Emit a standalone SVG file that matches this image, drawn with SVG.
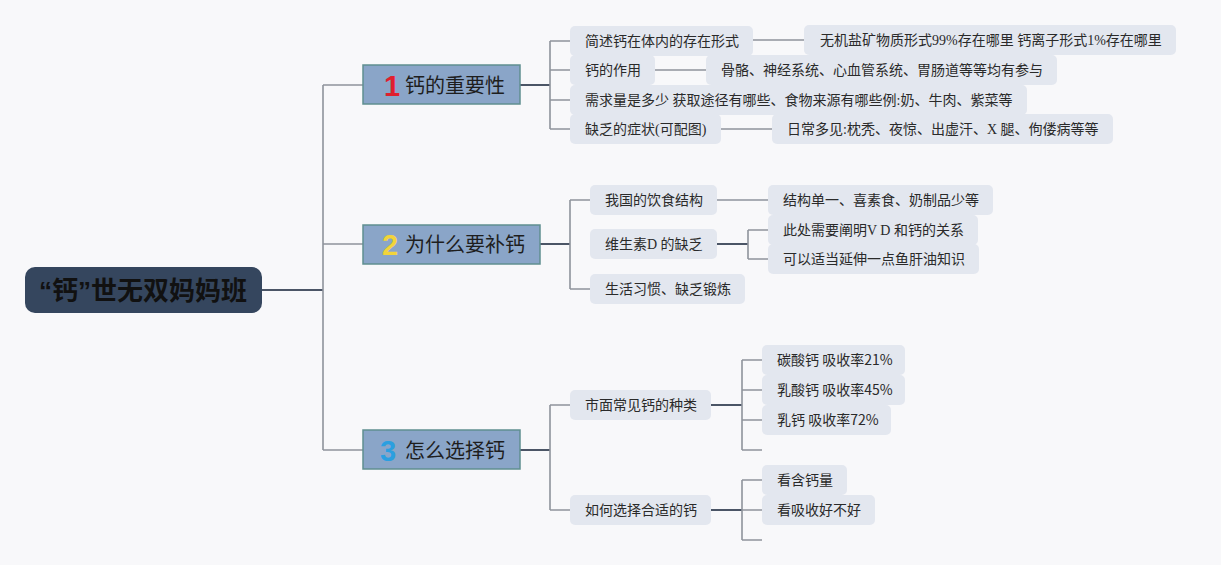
<svg xmlns="http://www.w3.org/2000/svg" width="1221" height="565" viewBox="0 0 1221 565">
<style>
.bg{fill:#f8f8fa}
.root rect{fill:#35465e}
.root text{font-family:"Noto Sans CJK SC",sans-serif;font-size:26px;font-weight:bold;fill:#111;text-anchor:middle}
.main rect{fill:#8aa5c8;stroke:#5f8f90;stroke-width:1.5}
.main text{font-family:"Noto Sans CJK SC",sans-serif;font-size:20px;fill:#1e1e1e}
.main text.num{font-family:"Liberation Sans","Noto Sans",sans-serif;font-size:29px;font-weight:bold}
.main text.r{fill:#e0202e}
.main text.y{fill:#f2d43a}
.main text.b{fill:#2b9fe0}
.sub rect{fill:#e3e7ef}
.sub text{font-family:"Liberation Serif","Noto Sans CJK SC",serif;font-size:14px;fill:#2a2a2a}
.sub text.sans{font-family:"Noto Sans CJK SC",sans-serif}
.dk{stroke:#4b5566;stroke-width:2;fill:none}
.lt{stroke:#8e939c;stroke-width:1.6;fill:none}
</style>
<rect class="bg" x="0" y="0" width="1221" height="565"/>

<g id="connectors">
  <path class="dk" d="M262 290H323"/>
  <path class="lt" d="M323 85V450M323 85H363M323 244H363M323 450H363"/>
  <path class="dk" d="M520 85H550"/>
  <path class="lt" d="M550 41V129M550 41H570M550 70H570M550 100H570M550 129H570"/>
  <path class="lt" d="M753 40H804M655 70H706M721 129H772"/>
  <path class="dk" d="M540 244H570"/>
  <path class="lt" d="M570 200V289M570 200H590M570 289H590"/>
  <path class="lt" d="M717 200H768"/>
  <path class="dk" d="M717 244H748"/>
  <path class="lt" d="M748 230V259M748 230H768M748 259H768"/>
  <path class="dk" d="M520 450H550"/>
  <path class="lt" d="M550 405V510M550 405H570M550 510H570"/>
  <path class="dk" d="M711 405H742M711 510H742"/>
  <path class="lt" d="M742 360V450M742 360H762M742 390H762M742 420H762M742 450H762"/>
  <path class="lt" d="M742 480V540M742 480H762M742 510H762M742 540H762"/>
</g>

<g id="root" class="root">
  <rect x="25" y="267" width="237" height="46" rx="10"/>
  <text x="143" y="300"><tspan font-family="Liberation Sans, sans-serif">“</tspan>钙<tspan font-family="Liberation Sans, sans-serif">”</tspan>世无双妈妈班</text>
</g>

<g id="n1" class="main">
  <rect x="363" y="65" width="157" height="39"/>
  <text x="384" y="95.5" class="num r">1</text>
  <text x="405" y="93">钙的重要性</text>
</g>
<g id="n2" class="main">
  <rect x="363" y="225" width="177" height="39"/>
  <text x="382" y="254.5" class="num y">2</text>
  <text x="405" y="252">为什么要补钙</text>
</g>
<g id="n3" class="main">
  <rect x="363" y="430" width="157" height="39"/>
  <text x="380" y="460.5" class="num b">3</text>
  <text x="405" y="458">怎么选择钙</text>
</g>

<g id="n1a" class="sub"><rect x="570" y="26" width="183" height="30" rx="5"/><text x="585" y="46">简述钙在体内的存在形式</text></g>
<g id="n1a1" class="sub"><rect x="804" y="25" width="372" height="30" rx="5"/><text x="820" y="45">无机盐矿物质形式99%存在哪里 钙离子形式1%存在哪里</text></g>
<g id="n1b" class="sub"><rect x="570" y="55" width="85" height="30" rx="5"/><text x="585" y="75">钙的作用</text></g>
<g id="n1b1" class="sub"><rect x="706" y="55" width="351" height="30" rx="5"/><text x="721" y="75">骨骼、神经系统、心血管系统、胃肠道等等均有参与</text></g>
<g id="n1c" class="sub"><rect x="570" y="85" width="457" height="30" rx="5"/><text x="585" y="105">需求量是多少 获取途径有哪些、食物来源有哪些例:奶、牛肉、紫菜等</text></g>
<g id="n1d" class="sub"><rect x="570" y="114" width="151" height="30" rx="5"/><text x="585" y="134">缺乏的症状(可配图)</text></g>
<g id="n1d1" class="sub"><rect x="772" y="114" width="341" height="30" rx="5"/><text x="787" y="134">日常多见:枕秃、夜惊、出虚汗、X 腿、佝偻病等等</text></g>

<g id="n2a" class="sub"><rect x="590" y="185" width="127" height="30" rx="5"/><text x="605" y="205">我国的饮食结构</text></g>
<g id="n2a1" class="sub"><rect x="768" y="185" width="225" height="30" rx="5"/><text x="783" y="205">结构单一、喜素食、奶制品少等</text></g>
<g id="n2b" class="sub"><rect x="590" y="229" width="127" height="30" rx="5"/><text x="605" y="249">维生素D 的缺乏</text></g>
<g id="n2b1" class="sub"><rect x="768" y="215" width="210" height="30" rx="5"/><text x="783" y="235">此处需要阐明V D 和钙的关系</text></g>
<g id="n2b2" class="sub"><rect x="768" y="244" width="211" height="30" rx="5"/><text x="783" y="264">可以适当延伸一点鱼肝油知识</text></g>
<g id="n2c" class="sub"><rect x="590" y="274" width="155" height="30" rx="5"/><text x="605" y="294">生活习惯、缺乏锻炼</text></g>

<g id="n3a" class="sub"><rect x="570" y="390" width="141" height="30" rx="5"/><text x="585" y="410">市面常见钙的种类</text></g>
<g id="n3a1" class="sub"><rect x="762" y="345" width="143" height="30" rx="5"/><text class="sans" x="777" y="365">碳酸钙 吸收率21%</text></g>
<g id="n3a2" class="sub"><rect x="762" y="375" width="143" height="30" rx="5"/><text class="sans" x="777" y="395">乳酸钙 吸收率45%</text></g>
<g id="n3a3" class="sub"><rect x="762" y="405" width="129" height="30" rx="5"/><text class="sans" x="777" y="425">乳钙 吸收率72%</text></g>
<g id="n3b" class="sub"><rect x="570" y="495" width="141" height="30" rx="5"/><text x="585" y="515">如何选择合适的钙</text></g>
<g id="n3b1" class="sub"><rect x="762" y="465" width="85" height="30" rx="5"/><text x="777" y="485">看含钙量</text></g>
<g id="n3b2" class="sub"><rect x="762" y="495" width="113" height="30" rx="5"/><text x="777" y="515">看吸收好不好</text></g>
</svg>
